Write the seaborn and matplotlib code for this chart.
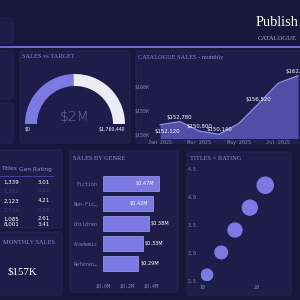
import matplotlib
matplotlib.use("Agg")
import matplotlib.pyplot as plt
from matplotlib.patches import FancyBboxPatch, Wedge
import numpy as np
import pandas as pd
import seaborn as sns

# ---- data ----
months = ["Jan 2025", "Feb 2025", "Mar 2025", "Apr 2025", "May 2025", "Jun 2025", "Jul 2025", "Aug 2025"]
monthly_sales = [152120, 152780, 150800, 150140, 152400, 156520, 160800, 162340]
labelled_months = [0, 1, 2, 3, 5, 7]

genres = ["Fiction", "Non-Fiction", "Children", "Academic", "Reference"]
genre_sales = [0.47, 0.42, 0.38, 0.33, 0.29]  # $M

bubble_titles = [10.9, 13.5, 16.0, 18.7, 21.5]
bubble_rating = [2.61, 3.01, 3.41, 3.81, 4.21]
bubble_sales = [0.29, 0.33, 0.38, 0.42, 0.47]

table_titles = ["1,339", "1,842", "2,123", "1,764", "1,085", "8,001"]
table_ratings = ["3.01", "3.62", "4.21", "3.88", "2.61", "3.41"]
table_faint = [False, True, False, True, False, False]

gauge_value = 862000
gauge_max = 1760440
avg_monthly = "$157K"

BG = "#17163b"
PANEL = "#1e1d4a"
ACCENT = "#7c79e2"
TITLE_C = "#8d8ad8"
TICK_C = "#8786b0"
W = H = 300

fig = plt.figure(figsize=(3, 3), dpi=100)
fig.patch.set_facecolor(BG)

bg = fig.add_axes([0, 0, 1, 1])
bg.set_xlim(0, W)
bg.set_ylim(H, 0)
bg.axis("off")


def px_axes(x0, y0, x1, y1):
    a = fig.add_axes([x0 / W, 1 - y1 / H, (x1 - x0) / W, (y1 - y0) / H])
    a.set_facecolor("none")
    return a


def panel(x0, y0, x1, y1):
    bg.add_patch(FancyBboxPatch((x0, y0), x1 - x0, y1 - y0,
                                boxstyle="round,pad=0,rounding_size=2",
                                fc=PANEL, ec="#28275c", lw=0.6))


def title(x, y, s, **kw):
    bg.text(x, y, s, color=TITLE_C, fontsize=4.6, family="Liberation Serif",
            va="center", **kw)


# header (only the part visible in the crop)
bg.text(256, 22, "Publish", color="white", fontsize=10.3,
        family="Liberation Serif", va="center")
bg.text(258, 38, "CATALOGUE", color="#a9a8cf", fontsize=4.8,
        family="Liberation Serif", va="center")
panel(-5, 18, 13, 43)
bg.plot([0, W], [47, 47], color="#6f6cd2", lw=1.4)

# panels
for box in [(-5, 51, 13, 99), (-5, 103, 13, 143), (20, 51, 130, 143), (136, 51, 305, 143),
            (-5, 150, 62, 228), (-5, 232, 62, 295), (70, 151, 178, 292), (187, 152, 291, 295)]:
    panel(*box)

title(22, 57, "SALES vs TARGET")
title(138, 57, "CATALOGUE SALES - monthly")
title(73, 158, "SALES BY GENRE")
title(190, 158, "TITLES \u00d7 RATING")
title(3, 243, "MONTHLY SALES")
bg.text(7, 272, avg_monthly, color="white", fontsize=7.8, family="Liberation Serif", va="center")

# ---- gauge ----
ga = px_axes(20, 70, 130, 130)
ga.set_xlim(-55, 55)
ga.set_ylim(-6, 54)
ga.axis("off")
frac = gauge_value / gauge_max
split = 180 - 180 * frac
ga.add_patch(Wedge((0, 0), 50, split, 180, width=12, fc=ACCENT, ec="none"))
ga.add_patch(Wedge((0, 0), 50, 0, split, width=12, fc="#ebebf4", ec="none"))
bg.text(75, 117, "$2M", color="#6d6c9c", fontsize=10, ha="center", va="center",
        fontweight="light")
bg.text(25, 129, "$0", color="white", fontsize=3.3, va="center")
bg.text(125, 129, f"${gauge_max:,}", color="white", fontsize=3.3, ha="right", va="center")

# ---- monthly area ----
aa = px_axes(152, 62, 300, 138)
x = np.arange(len(months))
sns.lineplot(x=x, y=monthly_sales, ax=aa, color="#8e8bec", linewidth=1)
aa.fill_between(x, monthly_sales, 149000, color="#524ea8", lw=0)
aa.set_xlim(-0.41, 7.1)
aa.set_ylim(149375, 165200)
aa.set_yticks([150000, 155000, 160000])
aa.set_yticklabels(["$150K", "$155K", "$160K"])
aa.set_xticks(x[::2])
aa.set_xticklabels(months[::2])
for s in aa.spines.values():
    s.set_visible(False)
aa.tick_params(length=0, labelsize=3.6, colors=TICK_C, pad=1.5)
for lab in aa.get_xticklabels() + aa.get_yticklabels():
    lab.set_family("DejaVu Sans Mono")
for i in labelled_months:
    off = (5, -4.5) if i == 0 else (0, 3.2)
    aa.annotate(f"${monthly_sales[i]:,}", (x[i], monthly_sales[i]), xytext=off,
                textcoords="offset points", ha="center", va="center",
                color="white", fontsize=3.9, annotation_clip=False)

# ---- genre bars ----
ba = px_axes(103, 172, 175, 276)
gdf = pd.DataFrame({"genre": genres, "sales": genre_sales})
sns.barplot(data=gdf, x="sales", y="genre", orient="h", ax=ba, color=ACCENT,
            saturation=1, width=0.75, edgecolor="#a3a0f3", linewidth=0.5)
ba.set_xlim(0, 0.6)
ba.set_ylim(4.625, -0.575)
ba.set_xticks([0, 0.2, 0.4])
ba.set_xticklabels(["$0.0M", "$0.2M", "$0.4M"])
ba.set_yticks(range(len(genres)))
ba.set_yticklabels([g if len(g) <= 8 else g[:7] + "\u2026" for g in genres])
ba.set_xlabel("")
ba.set_ylabel("")
for s in ba.spines.values():
    s.set_visible(False)
ba.tick_params(length=0, labelsize=3.6, colors=TICK_C)
ba.tick_params(axis="x", pad=6)
ba.tick_params(axis="y", pad=4)
for lab in ba.get_xticklabels() + ba.get_yticklabels():
    lab.set_family("DejaVu Sans Mono")
for i, v in enumerate(genre_sales):
    if v >= 0.4:
        ba.text(v - 0.04, i, f"${v:.2f}M", color="white", fontsize=3.6, ha="right", va="center")
    else:
        ba.text(v + 0.02, i, f"${v:.2f}M", color="white", fontsize=3.6, ha="left", va="center")

# ---- bubbles ----
sa = px_axes(201, 162, 285, 281)
sdf = pd.DataFrame({"titles": bubble_titles, "rating": bubble_rating, "sales": bubble_sales})
sns.scatterplot(data=sdf, x="titles", y="rating", size="sales", sizes=(85, 160),
                color=ACCENT, edgecolor="none", legend=False, ax=sa, alpha=1)
sa.set_xlim(9.82, 25.1)
sa.set_ylim(2.5, 4.625)
sa.set_yticks([2.5, 3.0, 3.5, 4.0, 4.5])
sa.set_xticks([10, 20])
sa.set_xlabel("")
sa.set_ylabel("")
for s in sa.spines.values():
    s.set_visible(False)
sa.tick_params(length=0, labelsize=3.6, colors=TICK_C, pad=3)
for lab in sa.get_xticklabels() + sa.get_yticklabels():
    lab.set_family("DejaVu Sans Mono")

# ---- table ----
bg.text(1, 169, "Titles", color=TITLE_C, fontsize=4.2, ha="left", va="center")
bg.text(52, 169, "Gen Rating", color=TITLE_C, fontsize=4.2, ha="right", va="center")
bg.plot([0, 53], [176, 176], color="#4a48a0", lw=0.6)
row_y = [182, 191, 201, 210, 219, 224]
for y, t, r, faint in zip(row_y, table_titles, table_ratings, table_faint):
    c = "#3c3b6e" if faint else "white"
    bg.text(19, y, t, color=c, fontsize=4.0, ha="right", va="center")
    bg.text(50, y, r, color=c, fontsize=4.0, ha="right", va="center")

fig.savefig("out.png", dpi=100, facecolor=BG)
